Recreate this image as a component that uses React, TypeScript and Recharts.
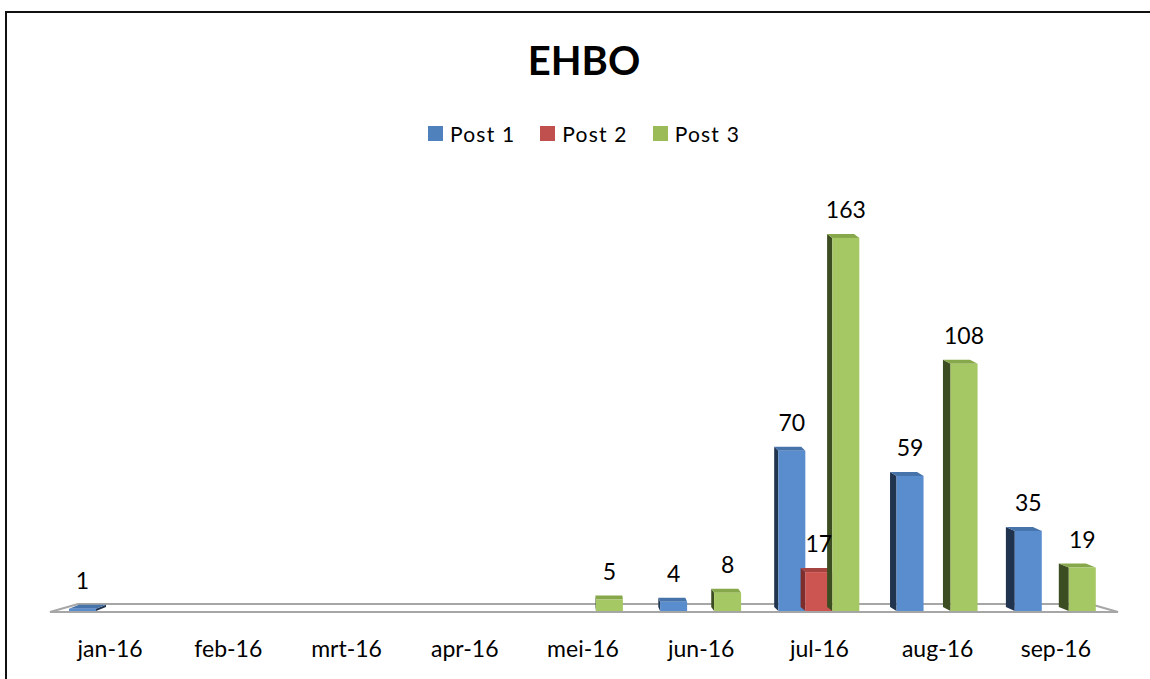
import { BarChart, Bar, XAxis, YAxis, LabelList, ReferenceArea } from 'recharts'

const months = ['jan-16', 'feb-16', 'mrt-16', 'apr-16', 'mei-16', 'jun-16', 'jul-16', 'aug-16', 'sep-16']
const post1 = [1, null, null, null, null, 4, 70, 59, 35]
const post2 = [null, null, null, null, null, null, 17, null, null]
const post3 = [null, null, null, null, 5, 8, 163, 108, 19]
const seriesNames = ['Post 1', 'Post 2', 'Post 3']

const FONT = 'Lato, "Open Sans", sans-serif'
const VIEW_X = 584 // horizontal point the fake 3d perspective leans towards

const colors = {
    p1: { legend: '#4f81bd', front: '#5a8dcd', side: '#21344f', top: '#4673aa' },
    p2: { legend: '#c0504d', front: '#cc5552', side: '#7e2d2b', top: '#a54341' },
    p3: { legend: '#9bbb59', front: '#a6c864', side: '#3d4d22', top: '#87a84a' },
}

const data = months.map((m, i) => ({
    month: m,
    p1: post1[i],
    p2: post2[i],
    p3: post3[i],
}))

function make3dBar(c: { front: string; side: string; top: string }) {
    return (props: any) => {
        const { x, y, width, height } = props
        if (height == null || width == null) return <g />
        const xc = x + width / 2
        const dx = (VIEW_X - xc) * 0.02
        const dy = -4
        const bottom = y + height
        const side =
            dx < 0
                ? `${x},${y} ${x + dx},${y + dy} ${x + dx},${bottom + dy} ${x},${bottom}`
                : `${x + width},${y} ${x + width + dx},${y + dy} ${x + width + dx},${bottom + dy} ${x + width},${bottom}`
        const top = `${x},${y} ${x + width},${y} ${x + width + dx},${y + dy} ${x + dx},${y + dy}`
        return (
            <g>
                <polygon points={side} fill={c.side} />
                <polygon points={top} fill={c.top} />
                <rect x={x} y={y} width={width} height={height} fill={c.front} />
            </g>
        )
    }
}

function Floor(props: any) {
    const { x, y, width } = props
    const front = y + 1
    const back = y - 7
    const pts = `${x - 1},${front} ${x + 27},${back} ${x + width - 25},${back} ${x + width + 3},${front}`
    return <polygon points={pts} fill="#fff" stroke="#a6a6a6" strokeWidth={2} strokeLinejoin="miter" />
}

function ValueLabel(props: any) {
    const { x, y, width, value } = props
    if (value == null) return null
    return (
        <text
            x={x + width / 2}
            y={y - 20}
            textAnchor="middle"
            fontFamily={FONT}
            fontSize={23}
            fill="#000"
        >
            {value}
        </text>
    )
}

function MonthTick(props: any) {
    const { x, y, payload } = props
    return (
        <text x={x} y={y + 46} textAnchor="middle" fontFamily={FONT} fontSize={23} fill="#000">
            {payload.value}
        </text>
    )
}

function LegendBox() {
    const items = [colors.p1, colors.p2, colors.p3]
    return (
        <div
            style={{
                position: 'absolute',
                top: 121,
                left: 0,
                width: 1150,
                paddingLeft: 18,
                boxSizing: 'border-box',
                display: 'flex',
                justifyContent: 'center',
                gap: 25,
                fontFamily: FONT,
                fontSize: 21,
                letterSpacing: 1.2,
                color: '#000',
            }}
        >
            {items.map((c, i) => (
                <div key={seriesNames[i]} style={{ display: 'flex', alignItems: 'center' }}>
                    <span style={{ width: 15, height: 15, background: c.legend, marginRight: 7, display: 'inline-block' }} />
                    <span>{seriesNames[i]}</span>
                </div>
            ))}
        </div>
    )
}

export default function App() {
    return (
        <div style={{ position: 'fixed', left: 0, top: 0, width: 1150, height: 679, overflow: 'hidden', background: '#fff' }}>
            <svg width={1150} height={679} style={{ position: 'absolute', left: 0, top: 0 }}>
                <polyline points="6,679 6,12 1150,12" fill="none" stroke="#111" strokeWidth={2} />
            </svg>
            <div
                style={{
                    position: 'absolute',
                    left: 0,
                    width: 1150,
                    top: 36,
                    textAlign: 'center',
                    fontFamily: FONT,
                    fontWeight: 700,
                    fontSize: 40,
                    color: '#000',
                    paddingLeft: 18,
                    boxSizing: 'border-box',
                }}
            >
                EHBO
            </div>
            <LegendBox />
            <div style={{ position: 'absolute', left: 0, top: 0 }}>
                <BarChart
                    width={1150}
                    height={679}
                    data={data}
                    margin={{ top: 199, right: 35, left: 51, bottom: 0 }}
                    barCategoryGap={18}
                    barGap={0}
                >
                    <ReferenceArea x1="jan-16" x2="sep-16" y1={0} y2={0} ifOverflow="visible" shape={<Floor />} />
                    <XAxis
                        dataKey="month"
                        axisLine={false}
                        tickLine={false}
                        tickSize={0}
                        tickMargin={0}
                        height={68}
                        interval={0}
                        tick={<MonthTick />}
                    />
                    <YAxis hide domain={[0, 180]} />
                    <Bar dataKey="p1" name="Post 1" isAnimationActive={false} shape={make3dBar(colors.p1)}>
                        <LabelList dataKey="p1" content={<ValueLabel />} />
                    </Bar>
                    <Bar dataKey="p2" name="Post 2" isAnimationActive={false} shape={make3dBar(colors.p2)}>
                        <LabelList dataKey="p2" content={<ValueLabel />} />
                    </Bar>
                    <Bar dataKey="p3" name="Post 3" isAnimationActive={false} shape={make3dBar(colors.p3)}>
                        <LabelList dataKey="p3" content={<ValueLabel />} />
                    </Bar>
                </BarChart>
            </div>
        </div>
    )
}
